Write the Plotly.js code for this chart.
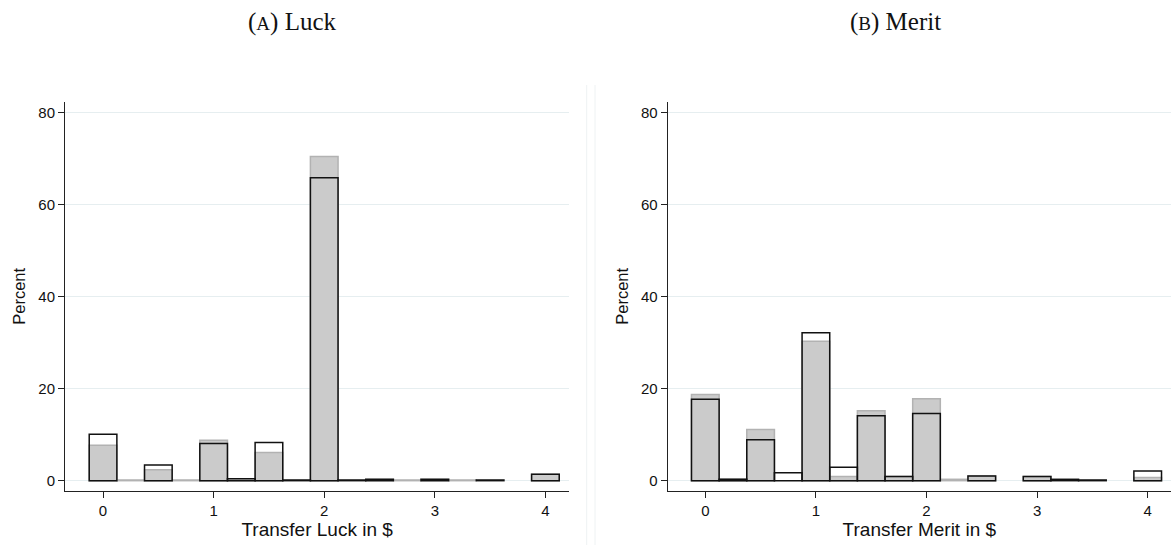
<!DOCTYPE html>
<html>
<head>
<meta charset="utf-8">
<script src="https://cdn.plot.ly/plotly-3.0.1.min.js"></script>
<style>
html,body{margin:0;padding:0;background:#fff;}
#chart{width:1171px;height:545px;}
</style>
</head>
<body>
<div id="chart"></div>
<script>
// Bin centres (width 0.25 $)
const bins = [0,0.25,0.5,0.75,1,1.25,1.5,1.75,2,2.25,2.5,2.75,3,3.25,3.5,3.75,4];
// Panel A: Luck (percent)
const luckGrey  = [7.7, 0.15, 2.4, 0.15, 8.8, 0.1, 6.1, null, 70.4, null, 0.3, 0.15, 0.3, 0.15, null, null, 1.4];
const luckBlack = [10.1, null, 3.4, null, 8.1, 0.4, 8.3, 0.15, 65.8, 0.15, 0.3, null, 0.3, null, 0.15, null, 1.4];
// Panel B: Merit (percent)
const meritGrey  = [18.7, 0.3, 11.1, null, 30.3, 0.9, 15.2, 0.9, 17.8, 0.3, 1.0, null, 0.9, null, null, null, 0.7];
const meritBlack = [17.7, 0.3, 8.9, 1.7, 32.1, 2.9, 14.1, 0.9, 14.6, null, 1.0, null, 0.9, 0.3, 0.15, null, 2.1];
const yTicks = [0,20,40,60,80];
const xTicks = [0,1,2,3,4];
const panelTitles = ["(<span style='font-size:19px'>A</span>) Luck", "(<span style='font-size:19px'>B</span>) Merit"];
const xTitles = ['Transfer Luck in $', 'Transfer Merit in $'];
const yTitle = 'Percent';

const W = 1171, H = 545;
const greyStyle = {color:'#cbcbcb', line:{color:'#b2b2b2', width:1.5}};
const blackStyle = {color:'rgba(0,0,0,0)', line:{color:'#111111', width:1.5}};

function bar(y, style, xa, ya){
  return {type:'bar', x:bins, y:y, width:0.25, marker:style, xaxis:xa, yaxis:ya,
          hoverinfo:'skip', showlegend:false};
}
const data = [
  bar(luckGrey, greyStyle, 'x', 'y'),
  bar(luckBlack, blackStyle, 'x', 'y'),
  bar(meritGrey, greyStyle, 'x2', 'y2'),
  bar(meritBlack, blackStyle, 'x2', 'y2')
];

const yDom = [(H-491)/H, (H-101.7)/H];
const tickFont = {family:'Liberation Sans, Arial, sans-serif', size:15, color:'#111'};
function xAxis(dom, range, title, anchor){
  return {domain:dom, range:range, anchor:anchor, tickvals:xTicks, ticktext:xTicks.map(String),
    showgrid:false, zeroline:false, showline:true, linecolor:'#222', linewidth:1,
    ticks:'outside', ticklen:6, tickcolor:'#222', tickfont:tickFont,
    title:{text:title, font:{family:'Liberation Sans, Arial, sans-serif', size:19, color:'#111'}, standoff:2},
    fixedrange:true};
}
function yAxis(anchor){
  return {domain:yDom, range:[-2.24, 82.3], tickvals:yTicks, ticktext:yTicks.map(String),
    anchor:anchor, showgrid:true, gridcolor:'#e6eef0', gridwidth:1, zeroline:false,
    showline:true, linecolor:'#222', linewidth:1, ticks:'outside', ticklen:6, tickcolor:'#222',
    tickfont:tickFont,
    title:{text:yTitle, font:{family:'Liberation Sans, Arial, sans-serif', size:16.5, color:'#111'}, standoff:8},
    fixedrange:true};
}

const layout = {
  width:W, height:H, margin:{l:0,r:0,t:0,b:0}, paper_bgcolor:'#fff', plot_bgcolor:'#fff',
  barmode:'overlay', bargap:0, showlegend:false,
  xaxis: xAxis([65/W, 569.3/W], [-0.344, 4.216], xTitles[0], 'y'),
  yaxis: yAxis('x'),
  xaxis2: xAxis([667.7/W, 1], [-0.34, 4.2107], xTitles[1], 'y2'),
  yaxis2: yAxis('x2'),
  annotations:[
    {text:panelTitles[0], x:292/W, y:1-22/H, xref:'paper', yref:'paper', showarrow:false,
     xanchor:'center', yanchor:'middle', font:{family:'Liberation Serif, serif', size:25, color:'#111'}},
    {text:panelTitles[1], x:896/W, y:1-22/H, xref:'paper', yref:'paper', showarrow:false,
     xanchor:'center', yanchor:'middle', font:{family:'Liberation Serif, serif', size:25, color:'#111'}}
  ],
  shapes:[
    {type:'line', xref:'paper', yref:'paper', x0:586.7/W, x1:586.7/W, y0:0, y1:1-85/H, line:{color:'#eef2f3', width:1}},
    {type:'line', xref:'paper', yref:'paper', x0:595/W, x1:595/W, y0:0, y1:1-85/H, line:{color:'#eef2f3', width:1}}
  ]
};
Plotly.newPlot('chart', data, layout, {staticPlot:true, displayModeBar:false});
</script>
</body>
</html>
